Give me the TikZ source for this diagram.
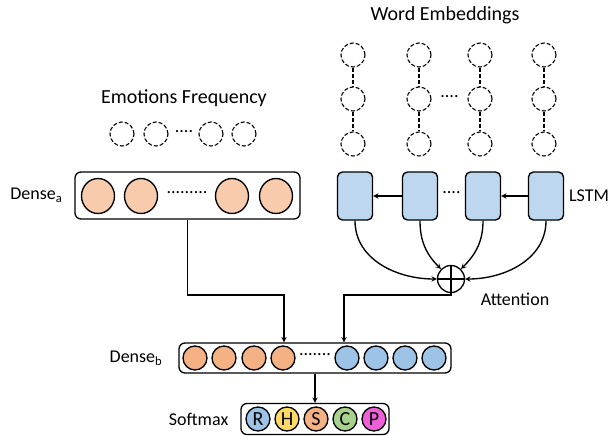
\documentclass[tikz,border=0pt]{standalone}
\usepackage{fontspec}
\setmainfont{Carlito}
\usetikzlibrary{shapes.geometric}

\definecolor{freqorange}{HTML}{F8CBAD}
\definecolor{denseorange}{HTML}{F4B183}
\definecolor{denseblue}{HTML}{9DC3E6}
\definecolor{lstmblue}{HTML}{BDD7EE}
\definecolor{softyellow}{HTML}{FFD966}
\definecolor{softgreen}{HTML}{A9D18E}
\definecolor{softpink}{HTML}{EE5FD8}

\begin{document}
\begin{tikzpicture}[x=1pt, y=-1pt, >=stealth, line width=1.35pt,
  every node/.style={font=\fontsize{18}{21}\selectfont},
  titletext/.style={font=\fontsize{20}{24}\selectfont},
  dotstext/.style={font=\fontsize{18}{18}\selectfont, inner sep=0pt},
  embcirc/.style={circle, draw, line width=1.1pt, dash pattern=on 4pt off 2pt, minimum size=24pt, inner sep=0pt},
  embline/.style={line width=1.1pt, dash pattern=on 4pt off 2pt},
  unita/.style={ellipse, draw, fill=freqorange, minimum width=33pt, minimum height=35pt, inner sep=0pt},
  unitb/.style={circle, draw, minimum size=24pt, inner sep=0pt},
  lstmcell/.style={draw, rounded corners=5pt, fill=lstmblue, minimum width=35pt, minimum height=48pt},
  layerbox/.style={draw, rounded corners=6pt, inner sep=0pt},
  classnode/.style={circle, draw, minimum size=24pt, inner sep=0pt, font=\fontsize{20}{20}\selectfont}]

  \useasboundingbox (0,0) rectangle (608,436);

  % --- 座標パラメータ ---
  \def\yrowa{196}
  \def\yrowb{358}
  \def\ysoft{419}

  % 1. タイトル
  \node[titletext] (wordtitle) at (445, 15) {Word Embeddings};
  \node[titletext] (freqtitle) at (184, 98) {Emotions Frequency};

  % 2. Word Embeddings（破線の円）
  \node[embcirc] (w1a) at (353, 55) {};
  \node[embcirc] (w1b) at (353, 99) {};
  \node[embcirc] (w1c) at (353, 144) {};
  \node[embcirc] (w2a) at (419, 55) {};
  \node[embcirc] (w2b) at (419, 99) {};
  \node[embcirc] (w2c) at (419, 144) {};
  \node[embcirc] (w3a) at (480, 55) {};
  \node[embcirc] (w3b) at (480, 99) {};
  \node[embcirc] (w3c) at (480, 144) {};
  \node[embcirc] (w4a) at (544, 55) {};
  \node[embcirc] (w4b) at (544, 99) {};
  \node[embcirc] (w4c) at (544, 144) {};
  \node[dotstext] (wdots) at (449.5, 97) {....};

  \draw[embline] (w1a) -- (w1b) (w1b) -- (w1c);
  \draw[embline] (w2a) -- (w2b) (w2b) -- (w2c);
  \draw[embline] (w3a) -- (w3b) (w3b) -- (w3c);
  \draw[embline] (w4a) -- (w4b) (w4b) -- (w4c);

  % 3. Emotions Frequency（破線の円）
  \node[embcirc] (f1) at (122, 134) {};
  \node[embcirc] (f2) at (156, 134) {};
  \node[embcirc] (f3) at (211, 134) {};
  \node[embcirc] (f4) at (244, 134) {};
  \node[dotstext] (fdots) at (184, 132) {....};

  % 4. Dense_a
  \node[layerbox, minimum width=225pt, minimum height=47pt] (densea) at (187.5, 195.5) {};
  \node[unita] (a1) at (98, \yrowa) {};
  \node[unita] (a2) at (141, \yrowa) {};
  \node[unita] (a3) at (232, \yrowa) {};
  \node[unita] (a4) at (276, \yrowa) {};
  \node[dotstext] (adots) at (187, 193) {.........};
  \node[anchor=east] (densealbl) at ([xshift=-8pt]densea.west) {Dense\textsubscript{a}};

  % 5. LSTM
  \node[lstmcell] (l1) at (355, \yrowa) {};
  \node[lstmcell] (l2) at (420, \yrowa) {};
  \node[lstmcell] (l3) at (483, \yrowa) {};
  \node[lstmcell] (l4) at (546, \yrowa) {};
  \node[dotstext] (ldots) at (451.5, 193) {....};
  \node[anchor=west] (lstmlbl) at ([xshift=1pt]l4.east) {LSTM};

  \draw[->] (l2.west) -- (l1.east);
  \draw[->] (l4.west) -- (l3.east);

  % 6. Attention
  \node[circle, draw, minimum size=27pt, inner sep=0pt,
        path picture={\draw (path picture bounding box.north) -- (path picture bounding box.south)
                            (path picture bounding box.west) -- (path picture bounding box.east);}]
        (att) at (451, 279) {};
  \node (attlbl) at (515, 299) {Attention};

  \draw[->] (l1.south) to[out=-90, in=180] (att.west);
  \draw[->] (l2.south) to[out=-90, in=135] (att.north west);
  \draw[->] (l3.south) to[out=-90, in=45] (att.north east);
  \draw[->] (l4.south) to[out=-90, in=0] (att.east);

  % 7. Dense_b
  \node[layerbox, minimum width=272pt, minimum height=30pt] (denseb) at (315, \yrowb) {};
  \node[unitb, fill=denseorange] (b1) at (195, \yrowb) {};
  \node[unitb, fill=denseorange] (b2) at (224, \yrowb) {};
  \node[unitb, fill=denseorange] (b3) at (254, \yrowb) {};
  \node[unitb, fill=denseorange] (b4) at (283, \yrowb) {};
  \node[unitb, fill=denseblue] (b5) at (347, \yrowb) {};
  \node[unitb, fill=denseblue] (b6) at (376, \yrowb) {};
  \node[unitb, fill=denseblue] (b7) at (405, \yrowb) {};
  \node[unitb, fill=denseblue] (b8) at (434, \yrowb) {};
  \node[dotstext] (bdots) at (315, 355) {.......};
  \node[anchor=east] (denseblbl) at ([xshift=-12pt]denseb.west) {Dense\textsubscript{b}};

  % 8. 接続線
  \coordinate (joina) at (284, 295);
  \coordinate (joinb) at (344, 295);
  \draw[->] (densea.south) |- (joina) -- (joina |- denseb.north);
  \draw[->] (att.south) |- (joinb) -- (joinb |- denseb.north);

  % 9. Softmax
  \node[layerbox, minimum width=148pt, minimum height=31pt] (softmax) at (315, \ysoft) {};
  \node[classnode, fill=denseblue] (cr) at (258, \ysoft) {R};
  \node[classnode, fill=softyellow] (ch) at (287, \ysoft) {H};
  \node[classnode, fill=denseorange] (cs) at (316, \ysoft) {S};
  \node[classnode, fill=softgreen] (cc) at (345, \ysoft) {C};
  \node[classnode, fill=softpink] (cp) at (374, \ysoft) {P};
  \node[anchor=east] (softlbl) at ([xshift=-8pt]softmax.west) {Softmax};

  \draw[->] (denseb.south) -- (softmax.north);

\end{tikzpicture}
\end{document}
